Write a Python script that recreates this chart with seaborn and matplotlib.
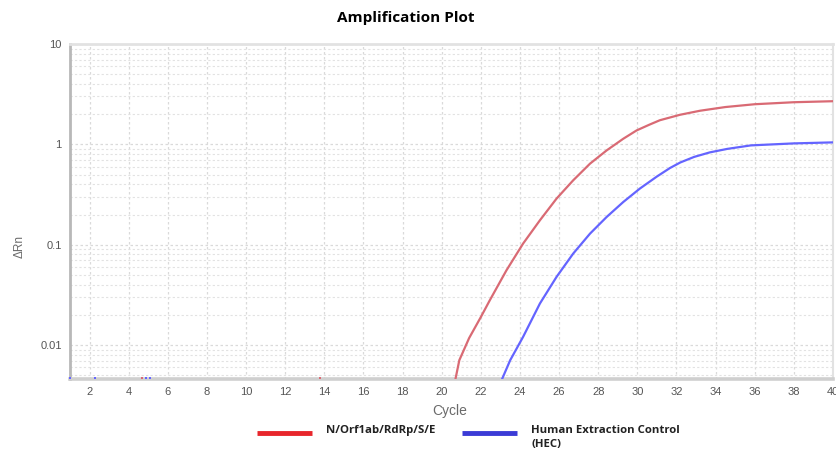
import numpy as np
import pandas as pd
import seaborn as sns
import matplotlib as mpl
import matplotlib.pyplot as plt
from matplotlib.lines import Line2D
from matplotlib.ticker import FixedLocator, LogLocator, NullFormatter

mpl.use('Agg')

# values (delta Rn against cycle)
target_cycles = [20.7, 20.9, 21.4, 22.0, 22.46, 23.31, 24.16, 25.02, 25.87, 26.72, 27.58, 28.43,
                 29.28, 29.96, 30.6, 31.15, 32.18, 33.2, 34.5, 36.0, 38.0, 40.0]
target_drn = [0.00457, 0.00708, 0.01175, 0.01905, 0.02805, 0.0557, 0.1028, 0.1754, 0.2884,
              0.4385, 0.6427, 0.871, 1.138, 1.377, 1.567, 1.74, 1.972, 2.163, 2.355, 2.512,
              2.630, 2.692]
hec_cycles = [23.08, 23.5, 24.16, 25.02, 25.87, 26.72, 27.58, 28.43, 29.28, 30.13, 31.0, 31.67,
              32.2, 32.9, 33.7, 34.6, 35.8, 38.0, 40.0]
hec_drn = [0.00457, 0.00708, 0.0121, 0.026, 0.0479, 0.0817, 0.1291, 0.1892, 0.2667, 0.3631,
           0.4786, 0.582, 0.661, 0.750, 0.832, 0.902, 0.977, 1.023, 1.047]
# little baseline blips sitting on the bottom edge
target_blip_cycles = [4.7, 13.8]
hec_blip_cycles = [1.0, 2.3, 4.9, 5.1]
blip_drn = 0.0047

x_ticks = list(range(2, 41, 2))
y_ticks = [0.01, 0.1, 1, 10]
y_tick_labels = ['0.01', '0.1', '1', '10']
legend_labels = ['N/Orf1ab/RdRp/S/E', 'Human Extraction Control\n(HEC)']

sns.set_style('white')
plt.rcParams['font.family'] = ['Liberation Sans', 'DejaVu Sans']

df = pd.concat([
    pd.DataFrame({'Cycle': target_cycles, 'dRn': target_drn, 'series': legend_labels[0]}),
    pd.DataFrame({'Cycle': hec_cycles, 'dRn': hec_drn, 'series': legend_labels[1]}),
])

fig = plt.figure(figsize=(8.36, 4.54), dpi=100)
ax = fig.add_axes([70 / 836, 1 - 379 / 454, 763 / 836, 335 / 454])

sns.lineplot(data=df, x='Cycle', y='dRn', hue='series',
             palette={legend_labels[0]: '#d96a74', legend_labels[1]: '#6464ff'},
             linewidth=1.6, ax=ax, legend=False, zorder=3)
ax.scatter(target_blip_cycles, [blip_drn] * len(target_blip_cycles), marker='s', s=4,
           color='#d96a74', clip_on=False, zorder=6, linewidths=0)
ax.scatter(hec_blip_cycles, [blip_drn] * len(hec_blip_cycles), marker='s', s=4,
           color='#6464ff', clip_on=False, zorder=6, linewidths=0)

ax.set_yscale('log')
ax.set_xlim(1, 40)
ax.set_ylim(0.0046, 10)
ax.xaxis.set_major_locator(FixedLocator(x_ticks))
ax.set_xticklabels([str(t) for t in x_ticks])
ax.yaxis.set_major_locator(FixedLocator(y_ticks))
ax.set_yticklabels(y_tick_labels)
ax.yaxis.set_minor_locator(LogLocator(base=10, subs=np.arange(2, 10)))
ax.yaxis.set_minor_formatter(NullFormatter())

ax.grid(True, which='major', axis='both', color='#dadada', linestyle=(0, (2, 2)), linewidth=0.9)
ax.grid(True, which='minor', axis='y', color='#e2e2e2', linestyle=(0, (2, 2)), linewidth=0.8)
ax.set_axisbelow(True)

ax.tick_params(axis='both', which='major', labelsize=8, labelcolor='#555555',
               color='#b5b5b5', length=3, width=1, direction='out', pad=3)
ax.tick_params(axis='y', which='minor', length=0)

for side, col, lw in [('left', '#b8b8b8', 2.0), ('bottom', '#cfcfcf', 2.6),
                      ('top', '#e2e2e2', 2.0), ('right', '#e2e2e2', 1.5)]:
    ax.spines[side].set_color(col)
    ax.spines[side].set_linewidth(lw)

ax.set_xlabel('')
ax.set_ylabel('')
fig.text(450 / 836, 1 - 411 / 454, 'Cycle', ha='center', va='center', fontsize=10, color='#6a6a6a')
fig.text(20 / 836, 1 - 246 / 454, 'ΔRn', ha='center', va='center', rotation=90, fontsize=8.5,
         color='#6a6a6a')

fig.text(406 / 836, 1 - 18 / 454, 'Amplification Plot', ha='center', va='center',
         fontsize=11, fontweight='bold', color='black', family=['Open Sans', 'DejaVu Sans'])

# legend drawn below the axes
for (x0, x1), col, label in [((257, 312), '#e8262c', legend_labels[0]),
                             ((462, 517), '#3b3bd6', legend_labels[1])]:
    fig.add_artist(Line2D([x0 / 836, x1 / 836], [1 - 433 / 454] * 2, color=col, linewidth=3.5,
                          transform=fig.transFigure, solid_capstyle='butt'))
    fig.text((x1 + 14) / 836, 1 - 425 / 454, label, ha='left', va='top', fontsize=8.2,
             fontweight='bold', color='#222222', linespacing=1.38,
             family=['Open Sans', 'DejaVu Sans'])

fig.savefig('out.png', dpi=100)
